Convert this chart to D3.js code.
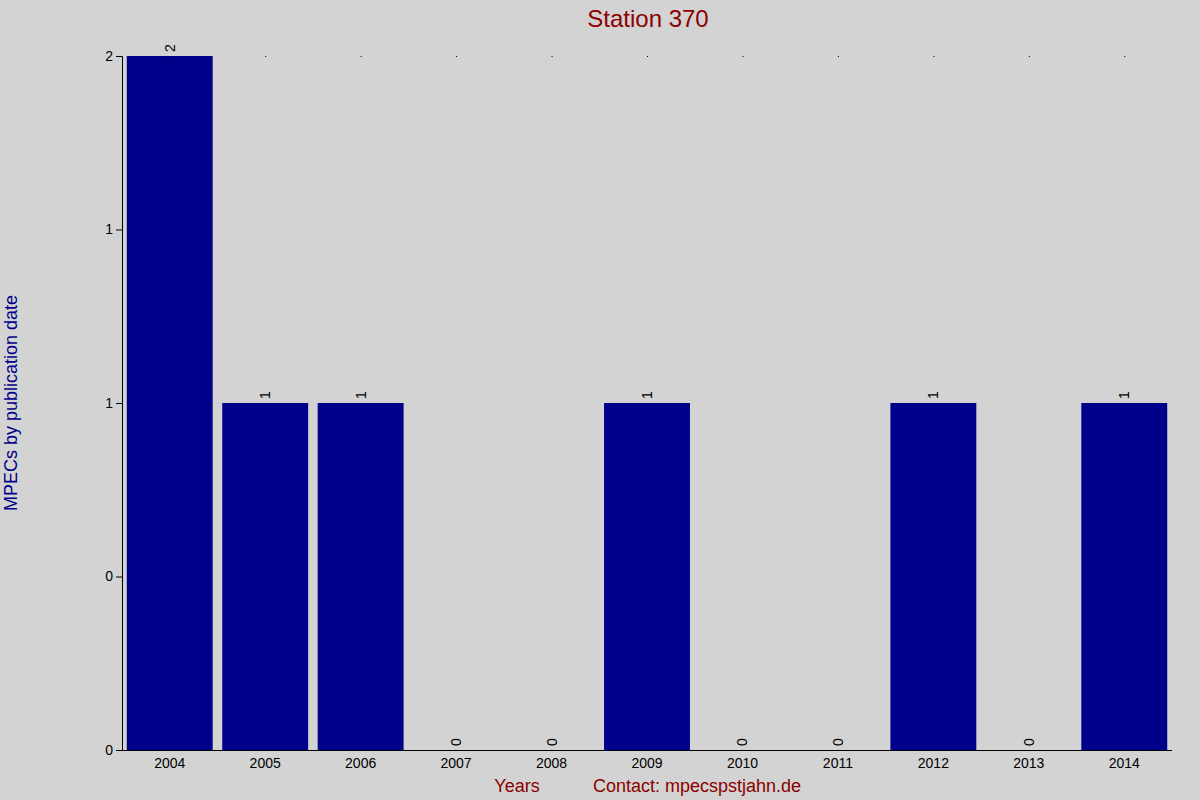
<!DOCTYPE html>
<html><head><meta charset="utf-8">
<script src="https://cdn.jsdelivr.net/npm/d3@7"></script>
<style>body{margin:0;background:#d3d3d3;font-family:Arial,"Liberation Sans",sans-serif}</style>
</head><body><svg id="c" width="1200" height="800"></svg>
<script>
const years=["2004","2005","2006","2007","2008","2009","2010","2011","2012","2013","2014"];
const counts=[2,1,1,0,0,1,0,0,1,0,1];
const yTicks=[0,0.5,1,1.5,2];
const svg=d3.select("#c");
svg.append("rect").attr("width",1200).attr("height",800).attr("fill","#d3d3d3");
const L=122,R=1172,T=56,B=750;
const x=d3.scaleBand().domain(years).range([L,R]).paddingInner(0.1).paddingOuter(0.05);
const y=d3.scaleLinear().domain([0,2]).range([B,T]);
svg.selectAll(".bar").data(counts).join("rect")
 .attr("x",(d,i)=>x(years[i])).attr("width",x.bandwidth())
 .attr("y",d=>y(d)).attr("height",d=>B-y(d)).attr("fill","#00008b");
svg.selectAll(".dot").data(years).join("rect")
 .attr("x",d=>x(d)+x.bandwidth()/2).attr("y",T).attr("width",1).attr("height",1).attr("fill","#000");
svg.selectAll(".vl").data(counts).join("text")
 .attr("transform",(d,i)=>`translate(${x(years[i])+x.bandwidth()/2+5},${y(d)-4}) rotate(-90)`)
 .attr("font-size",14).attr("fill","#000").text(d=>d);
const ya=svg.append("g").attr("transform",`translate(${L},0)`)
 .call(d3.axisLeft(y).tickValues(yTicks).tickSize(6).tickFormat(d=>Math.floor(d)));
const xa=svg.append("g").attr("transform",`translate(0,${B})`)
 .call(d3.axisBottom(x).tickSize(0).tickPadding(8));
[ya,xa].forEach(a=>{a.selectAll("text").attr("font-size",14).attr("fill","#000").style("font-family","Arial,'Liberation Sans',sans-serif");a.selectAll("path,line").attr("stroke","#000");});
xa.select(".domain").attr("d",`M${L-6},0.5H${R}`);
svg.append("text").attr("x",648).attr("y",27).attr("text-anchor","middle").attr("font-size",24).attr("fill","#8b0000").text("Station 370");
svg.append("text").attr("transform","translate(17,403) rotate(-90)").attr("text-anchor","middle").attr("font-size",18).attr("fill","#00008b").text("MPECs by publication date");
svg.append("text").attr("x",517).attr("y",792).attr("text-anchor","middle").attr("font-size",18).attr("fill","#8b0000").text("Years");
svg.append("text").attr("x",697).attr("y",792).attr("text-anchor","middle").attr("font-size",18).attr("fill","#8b0000").text("Contact: mpecspstjahn.de");
</script></body></html>
